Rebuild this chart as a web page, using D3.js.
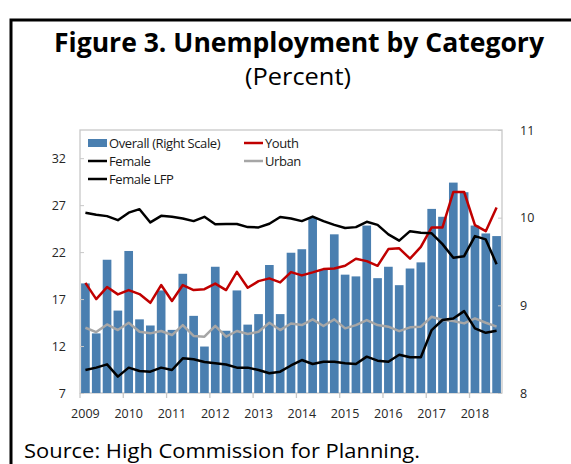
<!DOCTYPE html>
<html>
<head>
<meta charset="utf-8">
<script src="https://cdn.jsdelivr.net/npm/d3@7"></script>
<style>
	body { margin: 0; background: #fff; }
	text { font-family: "Open Sans", "Noto Sans", sans-serif; }
</style>
</head>
<body>
<div id="chart"></div>
<script>

///////////////////////////////////////////////////////////////////////////
//////////////////////////////// The data /////////////////////////////////
///////////////////////////////////////////////////////////////////////////

var quarters = [
	"2009Q1","2009Q2","2009Q3","2009Q4","2010Q1","2010Q2","2010Q3","2010Q4",
	"2011Q1","2011Q2","2011Q3","2011Q4","2012Q1","2012Q2","2012Q3","2012Q4",
	"2013Q1","2013Q2","2013Q3","2013Q4","2014Q1","2014Q2","2014Q3","2014Q4",
	"2015Q1","2015Q2","2015Q3","2015Q4","2016Q1","2016Q2","2016Q3","2016Q4",
	"2017Q1","2017Q2","2017Q3","2017Q4","2018Q1","2018Q2","2018Q3"
];

//Overall unemployment, right scale
var overall = [9.25, 8.68, 9.52, 8.94, 9.62, 8.84, 8.77, 9.17, 8.72, 9.36,
	8.88, 8.53, 9.44, 8.71, 9.17, 8.78, 8.90, 9.46, 8.90, 9.60,
	9.64, 10.00, 9.41, 9.81, 9.35, 9.33, 9.91, 9.31, 9.44, 9.23,
	9.42, 9.49, 10.10, 10.01, 10.40, 10.29, 9.91, 9.82, 9.79];

var youth = [18.73, 17.0, 18.28, 17.5, 17.96, 17.53, 16.6, 18.49, 16.79, 18.49,
	17.96, 18.05, 18.65, 17.96, 19.9, 18.2, 18.91, 19.2, 18.77, 19.87,
	19.52, 19.84, 20.19, 20.26, 20.54, 21.29, 21.04, 20.54, 22.32, 22.4,
	21.3, 22.56, 24.63, 24.63, 28.4, 28.4, 24.87, 24.23, 26.75];

var urban = [13.95, 13.49, 14.3, 13.7, 14.48, 13.52, 13.35, 13.6, 13.17, 14.23,
	13.08, 13.0, 14.15, 13.0, 13.6, 13.28, 13.52, 14.48, 13.7, 14.4,
	14.23, 14.84, 14.13, 14.84, 13.88, 14.23, 14.77, 14.23, 14.06, 13.58,
	13.99, 14.06, 15.12, 14.77, 14.66, 14.41, 14.94, 14.48, 14.06];

var female = [9.45, 9.7, 10.05, 8.74, 9.7, 9.34, 9.27, 9.7, 9.45, 10.69,
	10.6, 10.3, 10.16, 10.03, 9.7, 9.7, 9.45, 9.1, 9.27, 9.93,
	10.51, 10.09, 10.33, 10.33, 10.16, 10.09, 10.87, 10.44, 10.33, 11.07,
	10.8, 10.8, 13.7, 14.77, 14.94, 15.72, 13.88, 13.41, 13.63];

var femaleLFP = [26.18, 25.97, 25.83, 25.4, 26.2, 26.57, 25.16, 25.86, 25.76, 25.58,
	25.3, 25.76, 24.97, 25.0, 25.0, 24.66, 24.63, 25.02, 25.74, 25.57,
	25.3, 25.78, 25.3, 24.9, 24.57, 24.66, 25.23, 24.9, 23.89, 23.22,
	24.23, 24.07, 24.0, 22.85, 21.4, 21.57, 23.7, 23.35, 20.72];

var leftTicks = [7, 12, 17, 22, 27, 32];
var rightTicks = [8, 9, 10, 11];
var yearLabels = ["2009","2010","2011","2012","2013","2014","2015","2016","2017","2018"];

var lineSeries = [
	{ name: "Urban", values: urban, color: "#a6a6a6" },
	{ name: "Female", values: female, color: "#000000" },
	{ name: "Youth", values: youth, color: "#c00000" },
	{ name: "Female LFP", values: femaleLFP, color: "#000000" }
];

///////////////////////////////////////////////////////////////////////////
//////////////////// Set up and initiate svg container ////////////////////
///////////////////////////////////////////////////////////////////////////

var width = 571,
	height = 464;

var plot = { left: 80, right: 502, top: 130, bottom: 393 };

var svg = d3.select("#chart")
	.append("svg")
	.attr("width", width)
	.attr("height", height);

svg.append("rect")
	.attr("width", width)
	.attr("height", height)
	.style("fill", "#fff");

//Frame round the figure
svg.append("path")
	.attr("d", "M11,464 L11,20 L571,20")
	.style("fill", "none")
	.style("stroke", "#000")
	.style("stroke-width", 3);

//Titles
svg.append("text")
	.attr("x", 54)
	.attr("y", 52)
	.attr("textLength", 490)
	.attr("lengthAdjust", "spacingAndGlyphs")
	.style("font-size", "26px")
	.style("font-weight", "bold")
	.style("fill", "#000")
	.text("Figure 3. Unemployment by Category");

svg.append("text")
	.attr("x", 298)
	.attr("y", 85)
	.attr("text-anchor", "middle")
	.attr("textLength", 106)
	.attr("lengthAdjust", "spacingAndGlyphs")
	.style("font-size", "23px")
	.style("fill", "#000")
	.text("(Percent)");

///////////////////////////////////////////////////////////////////////////
///////////////////////////////// Scales //////////////////////////////////
///////////////////////////////////////////////////////////////////////////

var x = d3.scaleBand()
	.domain(quarters)
	.range([plot.left, plot.right])
	.paddingInner(0.2)
	.paddingOuter(0.1);

var yLeft = d3.scaleLinear()
	.domain([7, 35])
	.range([plot.bottom, plot.top]);

var yRight = d3.scaleLinear()
	.domain([8, 11])
	.range([plot.bottom, plot.top]);

var step = x.step();

///////////////////////////////////////////////////////////////////////////
////////////////////////////// Plot outline ///////////////////////////////
///////////////////////////////////////////////////////////////////////////

svg.append("rect")
	.attr("x", plot.left)
	.attr("y", plot.top)
	.attr("width", plot.right - plot.left)
	.attr("height", plot.bottom - plot.top)
	.style("fill", "none")
	.style("stroke", "#c8c8c8")
	.style("stroke-width", 1.3);

///////////////////////////////////////////////////////////////////////////
/////////////////////////////// The bars //////////////////////////////////
///////////////////////////////////////////////////////////////////////////

svg.append("g")
	.attr("class", "bars")
	.selectAll("rect")
	.data(overall)
	.enter().append("rect")
	.attr("x", function(d,i) { return x(quarters[i]); })
	.attr("y", function(d) { return yRight(d); })
	.attr("width", x.bandwidth())
	.attr("height", function(d) { return yRight(8) - yRight(d); })
	.style("fill", "#4a7fb0");

///////////////////////////////////////////////////////////////////////////
/////////////////////////////// The lines /////////////////////////////////
///////////////////////////////////////////////////////////////////////////

var line = d3.line()
	.x(function(d,i) { return x(quarters[i]) + x.bandwidth()/2; })
	.y(function(d) { return yLeft(d); });

svg.append("g")
	.attr("class", "lines")
	.selectAll("path")
	.data(lineSeries)
	.enter().append("path")
	.attr("d", function(d) { return line(d.values); })
	.style("fill", "none")
	.style("stroke", function(d) { return d.color; })
	.style("stroke-width", 2.5)
	.style("stroke-linejoin", "round");

///////////////////////////////////////////////////////////////////////////
/////////////////////////////// The axes //////////////////////////////////
///////////////////////////////////////////////////////////////////////////

//Left axis
var leftAxis = svg.append("g")
	.attr("transform", "translate(" + plot.left + ",0)")
	.call(d3.axisLeft(yLeft).tickValues(leftTicks).tickSize(-4).tickPadding(14));
leftAxis.select(".domain").remove();
leftAxis.selectAll("line").style("stroke", "#c8c8c8");
leftAxis.selectAll("text")
	.style("font-family", "'Open Sans', sans-serif")
	.style("font-size", "12.5px")
	.style("fill", "#262626");

//Right axis
var rightAxis = svg.append("g")
	.attr("transform", "translate(" + plot.right + ",0)")
	.call(d3.axisRight(yRight).tickValues(rightTicks).tickFormat(d3.format("d")).tickSize(-4).tickPadding(18));
rightAxis.select(".domain").remove();
rightAxis.selectAll("line").style("stroke", "#c8c8c8");
rightAxis.selectAll("text")
	.style("font-family", "'Open Sans', sans-serif")
	.style("font-size", "12.5px")
	.style("fill", "#262626");

//Bottom axis, a tick at the start of every year
var yearStarts = quarters.filter(function(d) { return d.slice(4) === "Q1"; });

svg.append("g")
	.selectAll("line")
	.data(yearStarts)
	.enter().append("line")
	.attr("x1", function(d) { return x(d) - (step - x.bandwidth())/2; })
	.attr("x2", function(d) { return x(d) - (step - x.bandwidth())/2; })
	.attr("y1", plot.bottom)
	.attr("y2", plot.bottom + 5)
	.style("stroke", "#c8c8c8")
	.style("stroke-width", 1.3);

svg.append("g")
	.selectAll("text")
	.data(yearStarts)
	.enter().append("text")
	.attr("x", function(d) { return x(d) + x.bandwidth()/2; })
	.attr("y", 418)
	.attr("text-anchor", "middle")
	.style("font-size", "12.5px")
	.style("fill", "#262626")
	.text(function(d,i) { return yearLabels[i]; });

///////////////////////////////////////////////////////////////////////////
/////////////////////////////// The legend ////////////////////////////////
///////////////////////////////////////////////////////////////////////////

var legendItems = [
	{ name: "Overall (Right Scale)", type: "bar", color: "#4a7fb0", x: 88, y: 143 },
	{ name: "Youth", type: "line", color: "#c00000", x: 244, y: 143 },
	{ name: "Female", type: "line", color: "#000000", x: 88, y: 161 },
	{ name: "Urban", type: "line", color: "#a6a6a6", x: 244, y: 161 },
	{ name: "Female LFP", type: "line", color: "#000000", x: 88, y: 179 }
];

var legend = svg.append("g").attr("class", "legend")
	.selectAll("g")
	.data(legendItems)
	.enter().append("g")
	.attr("transform", function(d) { return "translate(" + d.x + "," + d.y + ")"; });

legend.filter(function(d) { return d.type === "bar"; })
	.append("rect")
	.attr("x", 0)
	.attr("y", -4)
	.attr("width", 19)
	.attr("height", 8)
	.style("fill", function(d) { return d.color; });

legend.filter(function(d) { return d.type === "line"; })
	.append("line")
	.attr("x1", 0)
	.attr("x2", 19)
	.style("stroke", function(d) { return d.color; })
	.style("stroke-width", 2.5);

legend.append("text")
	.attr("x", 21)
	.attr("y", 4.5)
	.style("font-size", "13px")
	.style("letter-spacing", "-0.4px")
	.style("fill", "#1a1a1a")
	.text(function(d) { return d.name; });

///////////////////////////////////////////////////////////////////////////
/////////////////////////////// The source ////////////////////////////////
///////////////////////////////////////////////////////////////////////////

svg.append("text")
	.attr("x", 24)
	.attr("y", 458)
	.attr("textLength", 396)
	.attr("lengthAdjust", "spacingAndGlyphs")
	.style("font-size", "20px")
	.style("fill", "#000")
	.text("Source: High Commission for Planning.");

</script>
</body>
</html>
